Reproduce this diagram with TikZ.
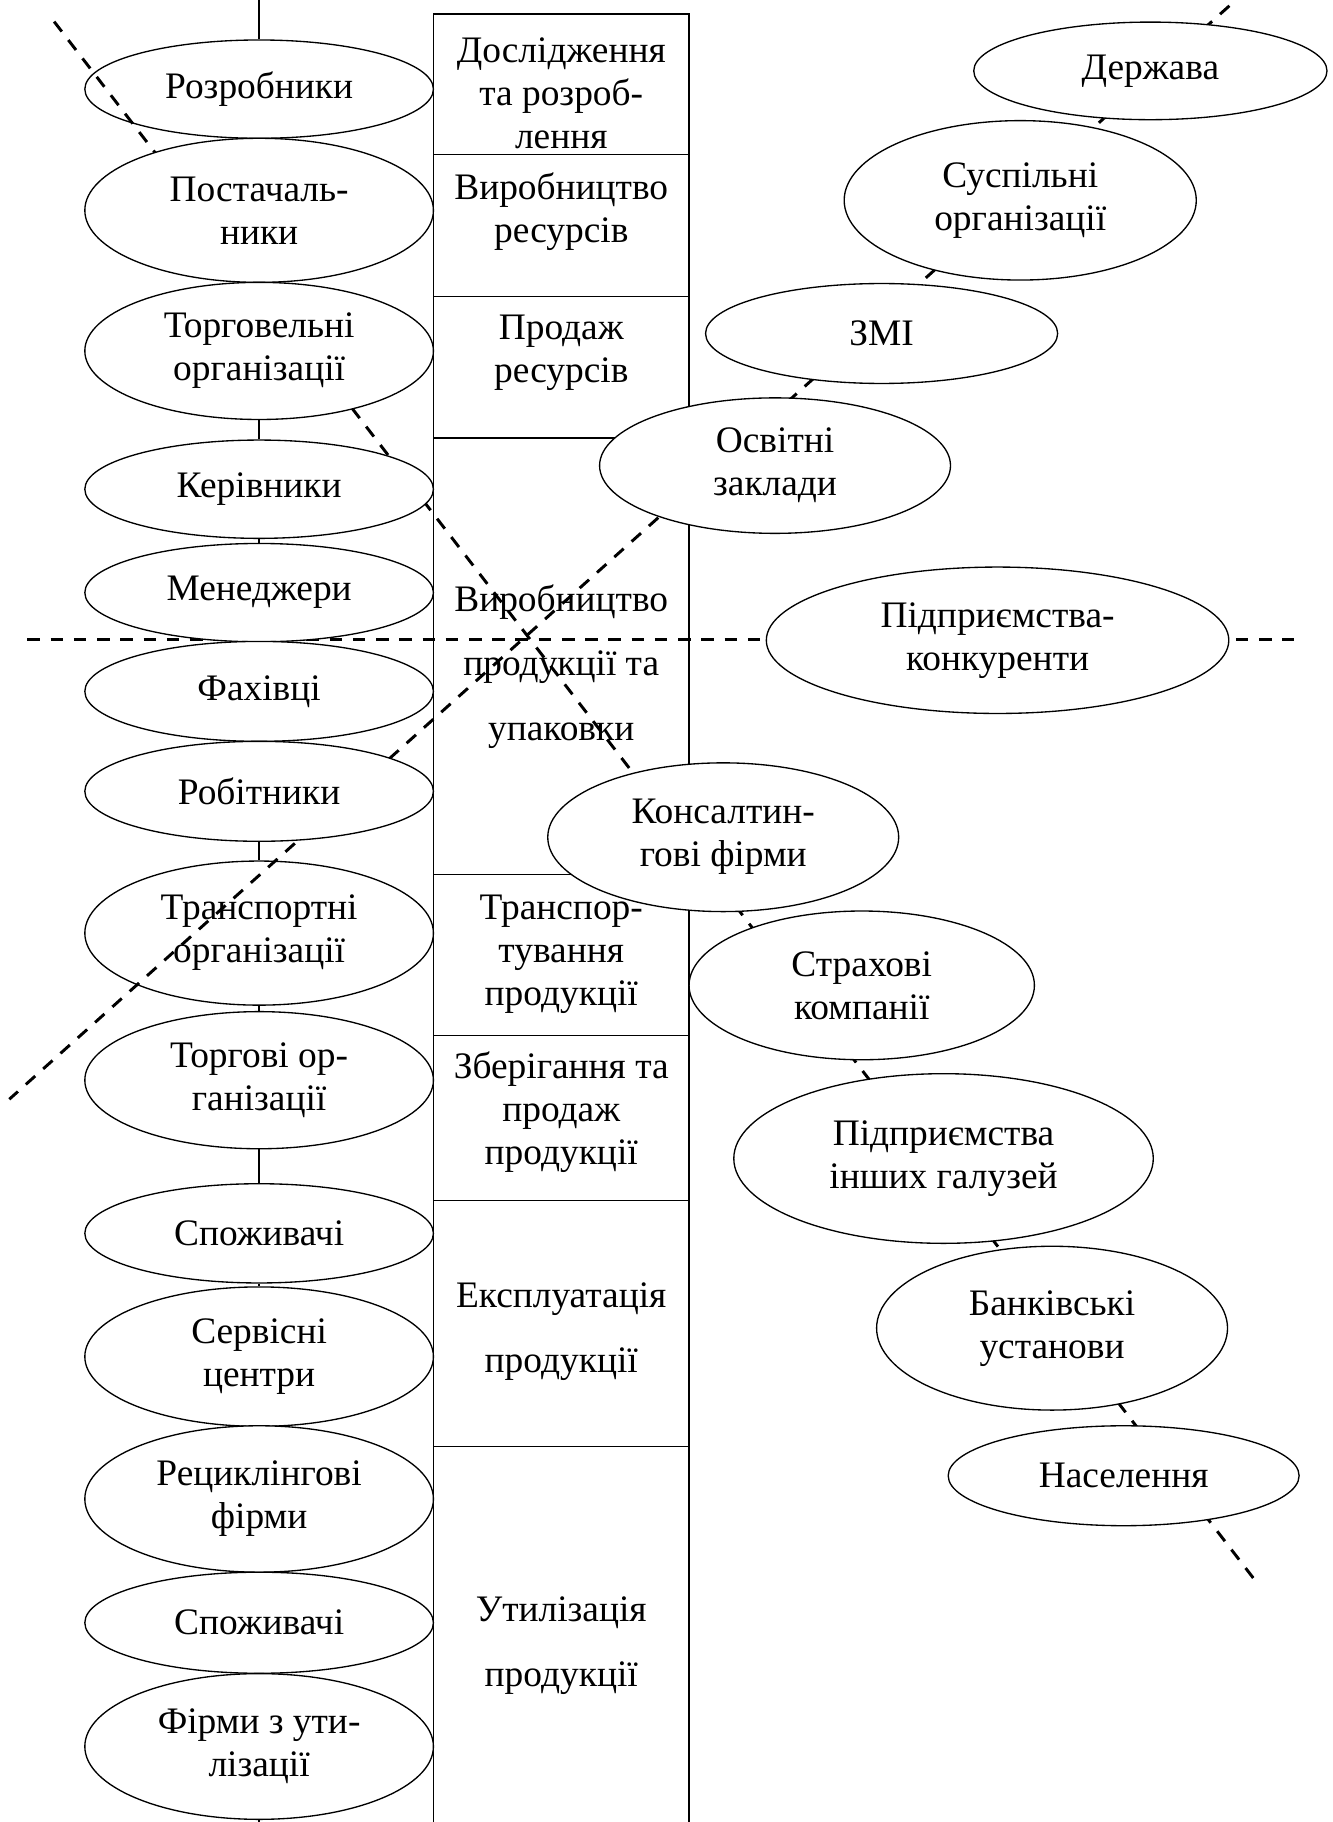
\documentclass[tikz,border=0pt]{standalone}
\usepackage{fontspec}
\setmainfont{Liberation Serif}
\usetikzlibrary{shapes.geometric}
\newcommand\bodyfont{\fontsize{14pt}{16.1pt}\selectfont}
\newcommand\widefont{\fontsize{14pt}{24.15pt}\selectfont}
\pgfdeclarelayer{back}
\pgfdeclarelayer{cuts}
\pgfdeclarelayer{front}
\pgfsetlayers{back,main,cuts,front}
\begin{document}
\begin{tikzpicture}[x=0.435pt,y=-0.435pt,
  ell/.style 2 args={ellipse, draw, fill=white, line width=0.5pt, inner sep=0pt,
    minimum width=0.87pt*#1, minimum height=0.87pt*#2, align=center, font=\bodyfont},
  stagelabel/.style={align=center, inner sep=0pt, font=\bodyfont},
  widelabel/.style={align=center, inner sep=0pt, font=\widefont},
  link/.style={line width=0.5pt},
  frame/.style={line width=0.6pt},
  boundary/.style={line width=1.1pt, dash pattern=on 4.7pt off 4pt}
]
\begin{pgfonlayer}{back}
  \fill[white] (0,0) rectangle (1147,1568);
\end{pgfonlayer}
\useasboundingbox (0,0) rectangle (1147,1568);

% ---- participants whose ellipse lets the dashed borders show through
\node[ell={150}{42.3}] (rozr) at (223,76.7) {Розробники};
\node[ell={150}{62}] (transp) at (223,803) {Транспортні\\організації};

% ---- remaining participants
\begin{pgfonlayer}{front}
  % left column
  \node[ell={150}{62}]   (post)    at (223,181)    {Постачаль-\\ники};
  \node[ell={150}{59}]   (torgov)  at (223,302)    {Торговельні\\організації};
  \node[ell={150}{42.3}] (keriv)   at (223,421)    {Керівники};
  \node[ell={150}{42.3}] (menedzh) at (223,510)    {Менеджери};
  \node[ell={150}{43}]   (fakh)    at (223,595)    {Фахівці};
  \node[ell={150}{43}]   (robit)   at (223,681)    {Робітники};
  \node[ell={150}{59}]   (torgovi) at (223,929.6)  {Торгові ор-\\ганізації};
  \node[ell={150}{42.7}] (spozh)   at (223,1061.4) {Споживачі};
  \node[ell={150}{60}]   (servis)  at (223,1167.5) {Сервісні\\центри};
  \node[ell={150}{63}]   (recykl)  at (223,1290)   {Рециклінгові\\фірми};
  \node[ell={150}{43.5}] (spozhb)  at (223,1396.5) {Споживачі};
  \node[ell={150}{62.7}] (utyl)    at (223,1503)   {Фірми з ути-\\лізації};
  % right column
  \node[ell={152}{42}]   (derzh)   at (990,61)     {Держава};
  \node[ell={151.5}{68.6}] (susp)  at (878,172.4)  {Суспільні\\організації};
  \node[ell={151.5}{43}] (zmi)     at (758.7,287)  {ЗМІ};
  \node[ell={151}{58.3}] (osvit)   at (667,400.7)  {Освітні\\заклади};
  \node[ell={199}{63}]   (konk)    at (858.5,551)  {Підприємства-\\конкуренти};
  \node[ell={151}{64}]   (kons)    at (622.4,720.5) {Консалтин-\\гові фірми};
  \node[ell={148.6}{64}] (strakh)  at (741.6,848)  {Страхові\\компанії};
  \node[ell={180.5}{73}] (inshi)   at (812,997)    {Підприємства\\інших галузей};
  \node[ell={151}{70.5}] (bank)    at (905.4,1143) {Банківські\\установи};
  \node[ell={151}{43}]   (nasel)   at (967,1270)   {Населення};
\end{pgfonlayer}

% ---- vertical chain of the left column and the stage table
\begin{pgfonlayer}{back}
  \coordinate (chaintop) at (223,0);
  \coordinate (chainbot) at (223,1568);
  \draw[link] (chaintop) -- (rozr.north);
  \draw[link] (torgov.south) -- (keriv.north);
  \draw[link] (keriv.south) -- (menedzh.north);
  \draw[link] (robit.south) -- (transp.north);
  \draw[link] (transp.south) -- (torgovi.north);
  \draw[link] (torgovi.south) -- (spozh.north);
  \draw[link] (spozh.south) -- (servis.north);
  \draw[link] (utyl.south) -- (chainbot);

  % life-cycle stages
  \draw[frame] (373,1568) -- (373,12) -- (593,12) -- (593,1568);
  \foreach \yy in {133,255,377,752.7,891,1033,1245}
    \draw[frame] (373,\yy) -- (593,\yy);
  \node[stagelabel] (st1) at (483,80)     {Дослідження\\та розроб-\\лення};
  \node[stagelabel] (st2) at (483,182)    {Виробництво\\ресурсів};
  \node[stagelabel] (st3) at (483,304)    {Продаж\\ресурсів};
  \node[widelabel]  (st4) at (483,573.5)  {Виробництво\\продукції та\\упаковки};
  \node[stagelabel] (st5) at (483,821)    {Транспор-\\тування\\продукції};
  \node[stagelabel] (st6) at (483,957.5)  {Зберігання та\\продаж\\продукції};
  \node[widelabel]  (st7) at (483,1146)   {Експлуатація\\продукції};
  \node[widelabel]  (st8) at (483,1416)   {Утилізація\\продукції};
\end{pgfonlayer}

% ---- dashed dividing lines
\begin{pgfonlayer}{cuts}
  \coordinate (d1a) at (46.6,18.6);
  \coordinate (d1b) at (1082.4,1363);
  \coordinate (d2a) at (1058,5);
  \coordinate (d2b) at (8,946);
  \coordinate (hza) at (23.6,550);
  \coordinate (hzb) at (1113.5,550);
  \draw[boundary] (d1a) -- (d1b);
  \draw[boundary] (d2a) -- (d2b);
  \draw[boundary] (hza) -- (hzb);
\end{pgfonlayer}
\end{tikzpicture}
\end{document}
